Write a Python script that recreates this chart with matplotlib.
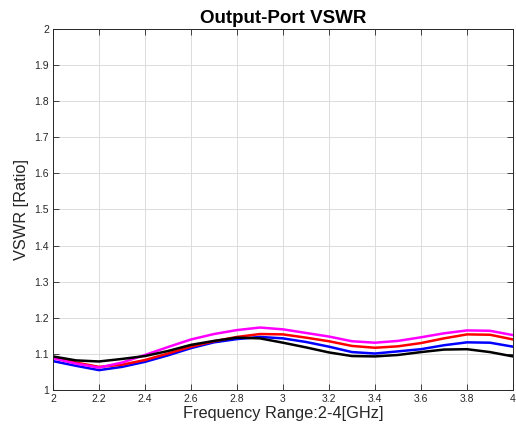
import numpy as np
import matplotlib.pyplot as plt

plt.rcParams['font.family'] = ['Liberation Sans', 'DejaVu Sans']

freq = [2.0, 2.1, 2.2, 2.3, 2.4, 2.5, 2.6, 2.7, 2.8, 2.9, 3.0,
        3.1, 3.2, 3.3, 3.4, 3.5, 3.6, 3.7, 3.8, 3.9, 4.0]

vswr_blue = [1.080, 1.067, 1.055, 1.064, 1.078, 1.096, 1.116, 1.132, 1.141, 1.147, 1.143,
             1.133, 1.120, 1.105, 1.101, 1.107, 1.113, 1.124, 1.132, 1.131, 1.120]
vswr_red = [1.091, 1.076, 1.064, 1.070, 1.083, 1.101, 1.120, 1.135, 1.147, 1.155, 1.154,
            1.145, 1.135, 1.122, 1.117, 1.121, 1.130, 1.143, 1.154, 1.153, 1.140]
vswr_magenta = [1.088, 1.073, 1.062, 1.076, 1.097, 1.119, 1.140, 1.155, 1.166, 1.173, 1.168,
                1.158, 1.148, 1.135, 1.131, 1.136, 1.146, 1.157, 1.165, 1.164, 1.152]
vswr_black = [1.093, 1.082, 1.079, 1.086, 1.094, 1.108, 1.125, 1.136, 1.145, 1.143, 1.131,
              1.118, 1.104, 1.094, 1.093, 1.097, 1.105, 1.112, 1.113, 1.105, 1.093]

xticks = [2, 2.2, 2.4, 2.6, 2.8, 3, 3.2, 3.4, 3.6, 3.8, 4]
xticklabels = ['2', '2.2', '2.4', '2.6', '2.8', '3', '3.2', '3.4', '3.6', '3.8', '4']
yticks = [1, 1.1, 1.2, 1.3, 1.4, 1.5, 1.6, 1.7, 1.8, 1.9, 2]
yticklabels = ['1', '1.1', '1.2', '1.3', '1.4', '1.5', '1.6', '1.7', '1.8', '1.9', '2']

fig = plt.figure(figsize=(5.16, 4.34), dpi=100)
ax = fig.add_axes([0.1027, 0.1014, 0.8915, 0.8318])

ax.plot(freq, vswr_blue, color='#0000ff', lw=1.8)
ax.plot(freq, vswr_red, color='#ff0000', lw=1.8)
ax.plot(freq, vswr_magenta, color='#ff00ff', lw=1.8)
ax.plot(freq, vswr_black, color='#000000', lw=1.8)

ax.set_xlim(2, 4)
ax.set_ylim(1, 2)
ax.set_xticks(xticks)
ax.set_xticklabels(xticklabels)
ax.set_yticks(yticks)
ax.set_yticklabels(yticklabels)
ax.tick_params(direction='in', top=True, right=True, labelsize=7.5,
               length=4, width=0.6, colors='#262626', pad=3)
ax.grid(True, color='#dcdcdc', lw=0.7)
for s in ax.spines.values():
    s.set_color('#262626')
    s.set_linewidth(0.7)

ax.set_title('Output-Port VSWR', fontsize=13.5, fontweight='bold', pad=4)
ax.set_xlabel('Frequency Range:2-4[GHz]', fontsize=11.8, color='#262626', labelpad=1)
ax.set_ylabel('VSWR [Ratio]', fontsize=11.8, color='#262626', labelpad=4)

fig.savefig('out.png', dpi=100)
